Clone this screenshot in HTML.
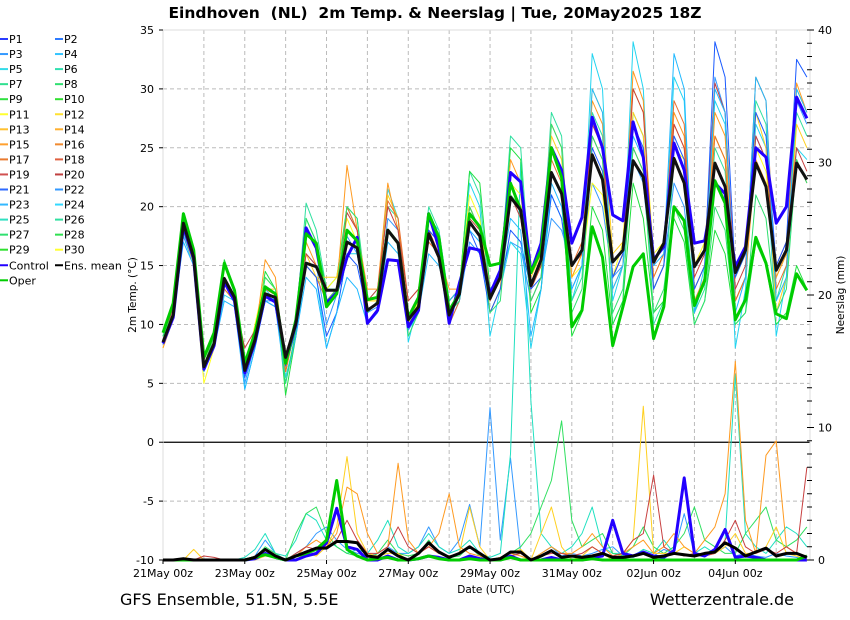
<!DOCTYPE html>
<html><head><meta charset="utf-8"><style>
body{margin:0;background:#fff;}
svg{display:block;font-family:"DejaVu Sans","Liberation Sans",sans-serif;}
</style></head><body>
<svg id="chart" width="850" height="620" viewBox="0 0 850 620">
<text x="435" y="18" text-anchor="middle" font-size="15.5" font-weight="bold" style="white-space:pre" xml:space="preserve">Eindhoven  (NL)  2m Temp. &amp; Neerslag | Tue, 20May2025 18Z</text>
<g id="grid"></g>
<g id="precip"></g>
<g id="temps"></g>
<g id="axes"></g>
<g id="legend"></g>
<text x="0" y="0" transform="translate(136,295) rotate(-90)" text-anchor="middle" font-size="10.5">2m Temp. (°C)</text>
<text x="0" y="0" transform="translate(844,295) rotate(-90)" text-anchor="middle" font-size="10.5">Neerslag (mm)</text>
<text x="486" y="593" text-anchor="middle" font-size="10.5">Date (UTC)</text>
<text x="120" y="605" font-size="16">GFS Ensemble, 51.5N, 5.5E</text>
<text x="794" y="605" text-anchor="end" font-size="16">Wetterzentrale.de</text>
</svg>
<script>
const xLabels=["21May 00z","23May 00z","25May 00z","27May 00z","29May 00z","31May 00z","02Jun 00z","04Jun 00z"];
const yTicksLeft=[35,30,25,20,15,10,5,0,-5,-10];
const yTicksRight=[0,10,20,30,40];
const ensMean=[8.5,10.8,18.6,15.7,6.4,8.4,13.9,12.3,6.1,8.7,12.6,12.3,7.2,10.1,15.2,14.9,12.9,12.9,17.0,16.5,11.2,11.8,18.0,16.9,10.4,11.5,17.7,15.7,10.8,12.6,18.7,17.5,12.2,14.0,20.8,19.7,13.3,15.5,22.9,21.1,15.0,16.3,24.4,22.3,15.3,16.3,23.9,22.5,15.3,16.9,24.1,22.0,14.9,16.3,23.7,21.7,14.4,16.3,23.7,21.7,14.6,16.3,23.7,22.3];
const control=[8.4,10.6,18.3,15.5,6.2,8.2,13.6,12.0,5.9,8.5,12.4,11.9,7.0,10.0,18.2,16.5,11.8,12.7,15.7,17.4,10.1,11.2,15.5,15.4,9.8,11.2,19.4,16.5,10.1,13.5,16.5,16.3,12.6,14.6,22.9,22.1,14.4,16.9,25.0,23.1,16.9,19.1,27.6,25.0,19.3,18.8,27.2,24.2,15.5,16.6,25.4,23.1,16.9,17.1,22.0,21.1,14.9,16.6,25.0,24.2,18.6,20.0,29.3,27.5];
const oper=[9.3,11.8,19.4,16.3,7.2,9.3,15.2,12.9,6.7,9.3,13.2,12.6,6.7,10.4,17.7,16.9,11.5,12.6,18.0,17.1,12.1,12.3,18.0,16.9,10.6,12.3,19.4,17.4,11.2,12.6,19.4,18.3,15.0,15.2,22.0,19.7,14.4,16.3,25.0,22.5,9.8,11.2,18.3,15.7,8.2,11.5,14.9,16.0,8.8,11.5,20.0,18.8,11.6,13.7,22.2,20.3,10.4,12.1,17.4,15.2,10.9,10.5,14.3,12.9];
const memberNames=["P3","P5","P7","P9","P11","P13","P15","P17","P19","P21","P23","P27"];
const memberColors=["#3399ff","#22d4f0","#30e0a0","#20e040","#ffff20","#ffd020","#ff9a20","#e87030","#c84040","#1a5aff","#20b8ff","#30e070"];
const mP3=[8.3,10.5,17.5,15,6.5,8.5,13,12,5,8.5,12,12,6.5,10,16,15,10,12.5,17.5,16,11,11.5,19,18,9.5,11,18,17,10,12,17,16,12,14,17,16.5,12,14,19,18,15,16,22,20,14,15,24,22,13,15,22,20,12,14,31,28,12,14,26,24,14,16,29,27];
const mP5=[8.5,11,17.8,15,6,8,12.5,12,4.5,8,13,12,5.5,9,15,14,8,11,16,16,11,12,21.5,19,8.5,12,19,18,12,13,22,20,9,13,17,16,8,13,21,19,12,15,33,30,12,15,34,30,13,15,31,29,11,15,29,27,8,13,27,25,9,14,25,24];
const mP7=[9,12,19.5,16,6.5,9,15,13,6,9,14,13,6.5,10,20.3,18,13,13,20,19,12,13,20,19,10,12,20,18,12,13,23,21,12,14,26,25,13,15,28,26,12,14,28,26,10,12,28,26,10,12,24,22,11,13,25,23,12,14,29,27,12,15,28,26];
const mP9=[9,11,19,16,7,9,15.5,13,6,9,14.5,13,4,9,19,17,13,14,20,18,11,12,18,17,10,12,19,17,12,13,23,22,13,14,25,24,11,13,23,21,9,11,20,18,10,12,22,19,11,12,19,17,10,12,18,16,10,11,17,15,10,11,15,13];
const mP11=[8,10.5,18,15,5,8,13,12,6,10,14,13,6,10,15,14,13,14,19,17,12,12,18,17,10,12,19,17,11,13,21,19,12,14,22,21,13,15,25,23,14,15,22,21,14,17,30,28,16,17,25,24,15,17,26,24,14,16,25,23,14,16,30,28];
const mP13=[8.5,11,18,16,6,8,13,12,6.5,9,13,13,6,10,16,14,14,14,18,17,12,12,21,19,10,11,18,17,11,13,20,18,11,13,21,20,14,16,26,24,14,16,30,28,16,17,28,26,14,16,27,25,13,15,26,24,12,14,28,25,11,14,27,25];
const mP15=[8,10.5,18.5,16,6.5,9,14,12,6,9,15.5,14,6,10,17,15,12,13,23.5,18,13,13,22,18,11,11,18,16,13,13,20,18,11,13,24,22,13,15,27,25,14,16,29,27,13,15,31.5,29,13,15,28,26,12,14,28,26,12,14,24,22,14,16,30.5,28];
const mP17=[8.5,11,18,16.5,6.2,8.5,13,12,7,9,13,12.5,6,10,15,14,12,13,20,18,11,12,20.5,19,12,13,17,16,10,12,20,18,13,14,22,20,12,14,24,22,15,17,26,24,14,16,25,23,14,16,29,27,13,15,26,24,12,14,31,29,13,15,24,22];
const mP19=[8.5,11.5,18.5,16.5,7,9,13.5,12,8,9.5,12.5,12,6.5,10,16,15,12,13,19.5,18,12,13,20,18,12,13,18,16,12,13,19,18,12,14,21,19,13,15,25,23,15,16,27,25,14,16,30,28,15,17,27,25,14,16,30.5,28,13,15,26,24,15,17,25,23];
const mP21=[8.3,10.5,18,15.5,6.2,8,13.5,12,5.5,8.5,12,11.5,6.5,9.5,15,14,9,11,16,15,11,12,18,17,10,11,18,17,11,12,18,16,11,13,18,17,13,14,21,19,13,15,25,23,14,16,27,25,13,15,26,24,13,15,34,31,14,16,28,26,15,17,32.5,31];
const mP23=[8.4,10.6,17,15,6,8,12,11.5,4.5,8,12,11.5,5,9,14,13,8,11,14,13,10,11,17,16,10,11,16,15,12,13,18,17,13,14,19,18,9,13,22,20,13,15,30,28,13,15,26,24,15,16,33,30,11,14,30,28,11,14,31,29,12,14,30,28];
const mP27=[9,11,19,16,6.5,9,14,12.5,6.5,9,14,13,5,9.5,19,17,12,13,20,19,11,12,18,17,9,11,19,17,11,12,20,18,11,12,21,20,12,14,27,25,11,13,26,24,11,13,25,23,11,13,20,18,10,12,20,18,10,11,21,19,11,13,24,22];
const pMean=[0,0,0.1,0,0,0,0,0,0,0.2,0.8,0.3,0,0.3,0.6,0.9,0.9,1.4,1.4,1.3,0.3,0.2,0.8,0.3,0,0.5,1.3,0.6,0.2,0.5,1.0,0.5,0,0.1,0.6,0.6,0,0.3,0.7,0.2,0.3,0.2,0.3,0.5,0.2,0.2,0.3,0.5,0.2,0.3,0.5,0.4,0.3,0.5,0.6,1.3,0.9,0.3,0.6,0.9,0.3,0.5,0.5,0.2];
const pControl=[0,0,0,0,0,0,0,0,0,0.1,0.5,0.2,0,0,0.3,0.5,1.3,3.9,1.0,0.8,0,0,0.3,0,0,0.1,0.3,0.2,0,0,0.3,0.1,0,0,0.3,0,0,0,0.2,0,0,0,0.2,0.3,3.0,0.5,0.3,0.6,0.3,0.2,0.7,6.2,0.5,0.3,0.8,2.3,0.2,0.3,0.2,0,0,0,0,0];
const pOper=[0,0,0,0,0,0,0,0,0,0.2,0.4,0.2,0,0.3,0.5,0.8,1.5,6.0,0.8,0.3,0,0.1,0.2,0,0,0.1,0.3,0.1,0,0,0.1,0,0,0,0.2,0,0,0,0,0,0,0,0.1,0,0,0,0,0,0,0,0,0,0,0,0,0,0,0,0,0,0,0,0,0.3];
const pP22=[0,0,0,0,0,0,0,0,0,0.3,1.5,0.5,0,0.5,1.0,2.0,2.5,1.5,0.8,0.5,0.3,0.5,1.0,0.5,0.5,1.0,2.5,1.0,0.5,1.5,4.2,1.0,11.5,1.5,7.7,0.5,0,0.5,1.0,0.3,0.5,0.3,0.5,0.8,1.0,0.3,0.2,0.5,0.3,0.8,0.5,3.5,0.5,0.3,0.5,1.0,0.3,0.5,0.3,0.2,0.5,0.3,0.2,0];
const pP26=[0,0,0,0,0,0,0,0,0.2,0.8,2.0,0.5,0.3,1.5,3.5,3.0,1.5,1.0,0.5,0.8,0.5,1.5,3.0,1.0,0.5,1.0,2.0,1.0,0.5,0.8,1.5,0.5,0.2,0.5,8.0,30.0,12.0,2.0,1.0,0.5,1.0,2.0,4.0,1.0,0.5,0.5,0.3,0.8,0.5,1.5,0.5,0.3,0.5,1.0,0.5,1.5,14.0,2.0,1.0,0.5,1.5,2.5,2.0,1.0];
const pP8=[0,0,0,0,0,0,0,0,0,0.2,1.0,0.5,0,2.0,3.5,4.0,2.0,1.0,0.5,0.3,0,0.5,1.5,0.5,0.3,0.5,1.5,0.5,0.2,0.3,1.0,0.3,0,0.2,0.5,1.0,2.0,4.0,6.0,10.5,3.0,1.0,1.5,2.0,0.5,0.3,1.0,2.5,1.0,0.5,1.0,2.0,4.0,1.5,1.0,0.5,0.5,2.0,3.0,4.0,1.5,1.0,1.5,2.5];
const pP13=[0,0,0,0.8,0,0,0,0,0,0,0.3,0.2,0,0,0.5,0.3,1.0,2.5,7.8,2.0,0.5,0.3,0.5,0.5,0,0.5,1.0,0.5,0.3,0.5,4.0,1.0,0,0,0.5,0.8,0,2.0,4.0,1.0,0,0.3,1.0,0.5,0,0.5,1.5,11.6,0.5,0.5,0.5,1.0,0.5,0.3,0.5,1.0,2.0,0.5,0.5,1.0,2.5,0.5,0.3,0];
const pP14=[0,0,0,0,0,0,0,0,0,0.1,0.5,0.3,0,0.3,1.0,1.5,1.0,2.0,5.5,5.0,2.0,0.5,1.0,7.3,1.5,0.5,1.0,2.0,5.0,1.0,0.5,0.3,0,0.2,0.5,0.3,0,0.5,1.0,0.5,0.5,1.0,2.0,1.0,0.3,0.5,1.0,1.5,0.5,1.0,2.0,1.0,0.5,1.5,2.5,5.0,15.0,3.0,0.5,7.9,9.0,1.0,0.5,0.3];
const pP20=[0,0,0,0,0.3,0.2,0,0,0,0.3,0.8,0.3,0,0.5,1.0,0.8,1.0,1.5,3.0,1.5,0.5,0.5,1.0,2.5,1.0,0.5,1.0,0.5,0.3,0.5,1.0,0.5,0,0.1,0.3,0.5,0,0.3,0.5,0.5,0.3,0.5,1.0,0.5,0.3,0.5,1.5,2.0,6.4,1.0,0.5,0.3,0.5,0.3,0.5,1.5,3.0,1.0,0.5,0.8,0.5,1.0,0.5,7.0];
const precipMembers=[pP22,pP26,pP8,pP13,pP14,pP20];
const precipColors=["#3399ff","#20e0c0","#30e060","#ffd020","#ff9a20","#c84040"];
const precipNames=["P22","P26","P8","P13","P14","P20"];
const memberData=[mP3,mP5,mP7,mP9,mP11,mP13,mP15,mP17,mP19,mP21,mP23,mP27];
const legendNames=["P1","P2","P3","P4","P5","P6","P7","P8","P9","P10","P11","P12","P13","P14","P15","P16","P17","P18","P19","P20","P21","P22","P23","P24","P25","P26","P27","P28","P29","P30","Control","Ens. mean","Oper"];
const legendColors=["#2a3cff","#2e7bff","#3399ff","#33c4ff","#33dbe8","#30e0b0","#30e090","#30e070","#30e040","#30e030","#ffff30","#ffe030","#ffc030","#ffb030","#ffa030","#f08a30","#e87a30","#e06040","#d05050","#c04040","#2e6aff","#3399ff","#33b8ff","#33d8ff","#30e0c0","#30e0a0","#30e070","#30e050","#30e030","#ffff30","#2200ff","#000000","#00cc00"];

const NS="http://www.w3.org/2000/svg";
function mk(tag,attrs,parent){const e=document.createElementNS(NS,tag);for(const k in attrs)e.setAttribute(k,attrs[k]);parent.appendChild(e);return e;}
const X0=163,X1=810,Y0=30,Y1=560,STEP=10.22;
function xs(i){return X0+i*STEP;}
function yT(t){return Y1-(t+10)*(Y1-Y0)/45;}
function yP(p){return Y1-p*(Y1-Y0)/40;}
const grid=document.getElementById('grid'),axes=document.getElementById('axes'),temps=document.getElementById('temps'),precip=document.getElementById('precip'),legend=document.getElementById('legend');

for(let d=1;d<16;d++){const x=X0+d*4*STEP;const l=mk('line',{x1:x,x2:x,y1:Y0,y2:Y1,stroke:'#bbb','stroke-dasharray':'4,3','stroke-width':1},grid);

}
yTicksLeft.forEach(t=>{const y=yT(t);
 if(t!==0&&t!==35&&t!==-10){const g=mk('line',{x1:X0,x2:X1,y1:y,y2:y,stroke:'#bbb','stroke-dasharray':'4,3','stroke-width':1},grid);
 
 }
 const tk=mk('line',{x1:X0-4,x2:X0,y1:y,y2:y,stroke:'#000'},axes);
 
 
 const tx=mk('text',{x:X0-9,y:y+4,'text-anchor':'end','font-size':11},axes);tx.textContent=t;
 
 });
const zl=mk('line',{x1:X0,x2:X1,y1:yT(0),y2:yT(0),stroke:'#000','stroke-width':1.3},grid);


const fr=mk('rect',{x:X0,y:Y0,width:X1-X0,height:Y1-Y0,fill:'none',stroke:'#ddd'},grid);


for(let p=0;p<=40;p++){const y=yP(p);const tk=mk('line',{x1:X1-3,x2:X1+(p%10===0?4:2),y1:y,y2:y,stroke:'#000'},axes);
 
 }
yTicksRight.forEach(p=>{const tx=mk('text',{x:X1+8,y:yP(p)+4,'font-size':11},axes);tx.textContent=p;
 
 });
xLabels.forEach((s,k)=>{const x=X0+k*8*STEP;const tk=mk('line',{x1:x,x2:x,y1:Y1,y2:Y1+4,stroke:'#000'},axes);
 
 
 const tx=mk('text',{x:x,y:Y1+17,'text-anchor':'middle','font-size':11},axes);tx.textContent=s;
 
 });

function poly(arr,yf,color,w,parent,name){const pts=arr.map((v,i)=>xs(i).toFixed(1)+','+yf(v).toFixed(1)).join(' ');
 const p=mk('polyline',{points:pts,fill:'none',stroke:color,'stroke-width':w,'stroke-linejoin':'round'},parent);
 
 }
precipMembers.forEach((a,k)=>poly(a,yP,precipColors[k],1,precip,'precip-'+precipNames[k].toLowerCase()));
poly(pControl,yP,'#2200ff',3,precip,'precip-control');
poly(pOper,yP,'#00cc00',3,precip,'precip-oper');
poly(pMean,yP,'#000',3,precip,'precip-ens-mean');
memberData.forEach((a,k)=>poly(a,yT,memberColors[k],1,temps,'temp-'+memberNames[k].toLowerCase()));
poly(control,yT,'#2200ff',3,temps,'temp-control');
poly(oper,yT,'#00cc00',3,temps,'temp-oper');
poly(ensMean,yT,'#111',3,temps,'temp-ens-mean');

legendNames.forEach((n,k)=>{const col=k%2,row=Math.floor(k/2);const x=col?55:0;const y=39+row*15.05+(k>=30?0.5:0);
 const g=mk('g',{},legend);
 
 
 mk('line',{x1:x,x2:x+8,y1:y,y2:y,stroke:legendColors[k],'stroke-width':2},g);
 const t=mk('text',{x:x+9,y:y+4,'font-size':11},g);t.textContent=n;});
</script>
</body></html>
